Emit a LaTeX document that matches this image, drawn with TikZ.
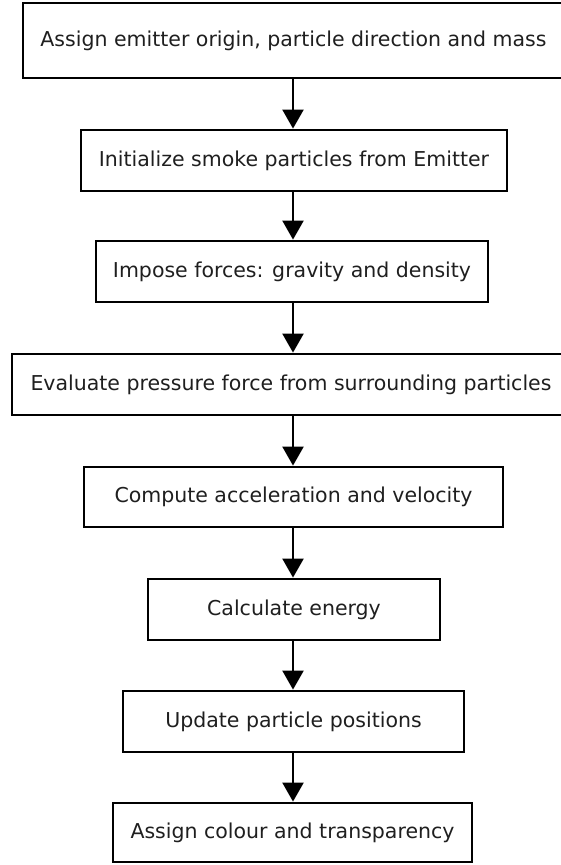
\documentclass[tikz,border=0pt]{standalone}
\usepackage{fontspec}
\setmainfont{DejaVu Sans}
\usetikzlibrary{arrows.meta}
\tikzset{
  stepbox/.style={draw=black, line width=2.8pt, fill=white, inner sep=0pt,
    font=\fontsize{20.5}{24}\selectfont, text=black!88},
  flow/.style={line width=2.2pt, -{Triangle[width=21pt,length=19pt]}}
}
\begin{document}
\begin{tikzpicture}[x=1pt,y=-1pt]
\useasboundingbox (0,0) rectangle (561,865);
\node[stepbox, minimum width=541pt, minimum height=75pt] (b1) at (293.5,40.5) {Assign emitter origin, particle direction and mass};
\node[stepbox, minimum width=426pt, minimum height=61pt] (b2) at (294,160.5) {Initialize smoke particles from Emitter};
\node[stepbox, minimum width=392pt, minimum height=61pt] (b3) at (292,271.5) {Impose forces: gravity and density};
\node[stepbox, minimum width=558pt, minimum height=61pt] (b4) at (291,384.5) {Evaluate pressure force from surrounding particles};
\node[stepbox, minimum width=419pt, minimum height=60pt] (b5) at (293.5,497) {Compute acceleration and velocity};
\node[stepbox, minimum width=292pt, minimum height=61pt] (b6) at (294,609.5) {Calculate energy};
\node[stepbox, minimum width=341pt, minimum height=61pt] (b7) at (293.5,721.5) {Update particle positions};
\node[stepbox, minimum width=359pt, minimum height=59pt] (b8) at (292.5,832.5) {Assign colour and transparency};
\coordinate (ax) at (293,0);
\foreach \a/\b in {b1/b2,b2/b3,b3/b4,b4/b5,b5/b6,b6/b7,b7/b8}{
  \draw[flow] (ax |- \a.south) -- (ax |- \b.north);
}
\end{tikzpicture}
\end{document}
